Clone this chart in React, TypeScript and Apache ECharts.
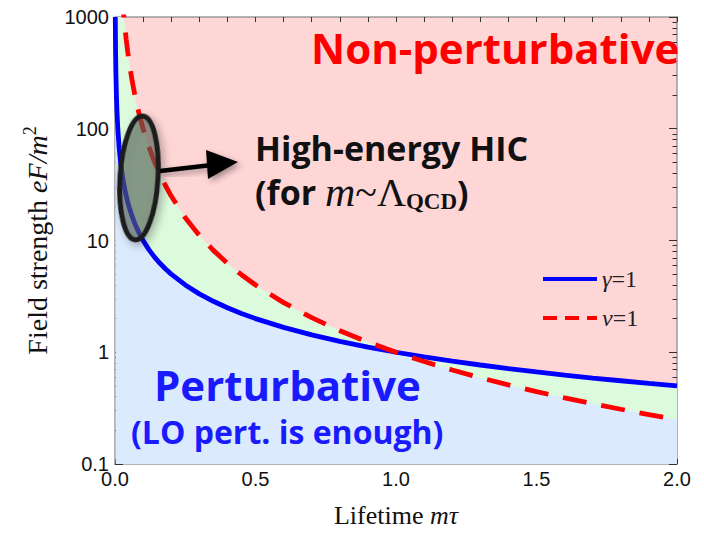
import React, { useEffect, useRef } from "react";
import * as echarts from "echarts";

// lifetime m*tau
const tau = [0.001, 0.002, 0.003, 0.005, 0.007, 0.01, 0.015, 0.02, 0.025, 0.03, 0.035, 0.04, 0.045, 0.05, 0.06, 0.07, 0.08, 0.09, 0.1, 0.12, 0.14, 0.16, 0.18, 0.2, 0.25, 0.3, 0.35, 0.4, 0.45, 0.5, 0.6, 0.7, 0.8, 0.9, 1.0, 1.1, 1.2, 1.3, 1.4, 1.5, 1.6, 1.7, 1.8, 1.9, 2.0];
// gamma = 1 curve (eF/m^2)
const gamma1 = [1000, 500, 333, 200, 143, 100, 66.7, 50, 40, 33.3, 28.6, 25, 22.2, 20, 16.7, 14.3, 12.5, 11.1, 10, 8.33, 7.14, 6.25, 5.56, 5, 4, 3.33, 2.86, 2.5, 2.22, 2, 1.67, 1.43, 1.25, 1.11, 1, 0.909, 0.833, 0.769, 0.714, 0.667, 0.625, 0.588, 0.556, 0.526, 0.5];
// nu = 1 curve (eF/m^2)
const nu1 = [1e6, 250000, 111111, 40000, 20408, 10000, 4444, 2500, 1600, 1111, 816, 625, 494, 400, 278, 204, 156, 123, 100, 69.4, 51, 39.1, 30.9, 25, 16, 11.1, 8.16, 6.25, 4.94, 4, 2.78, 2.04, 1.56, 1.23, 1, 0.826, 0.694, 0.592, 0.51, 0.444, 0.391, 0.346, 0.309, 0.277, 0.25];
// axes
const xTickLabels = [0, 0.5, 1.0, 1.5, 2.0];
const yMinorTicks = [0.2, 0.3, 0.4, 0.5, 0.6, 0.7, 0.8, 0.9, 2, 3, 4, 5, 6, 7, 8, 9, 20, 30, 40, 50, 60, 70, 80, 90, 200, 300, 400, 500, 600, 700, 800, 900];
const yMajorTicks = [0.1, 1, 10, 100, 1000];

const SERIF = "'Liberation Serif', 'DejaVu Serif', serif";
const SANS = "'Liberation Sans', Arial, sans-serif";
const BOLD = "'Open Sans', 'Noto Sans', sans-serif";

export default function App() {
  const ref = useRef<HTMLDivElement>(null);
  useEffect(() => {
    if (!ref.current) return;
    const chart = echarts.init(ref.current, null, { renderer: "svg" });
    const blueData = tau.map((t, i) => [t, gamma1[i]]);
    const redData = tau.map((t, i) => [t, nu1[i]]);
    const upper = tau.map((t, i) => [t, Math.max(gamma1[i], nu1[i])]);
    const lower = tau.map((t, i) => [t, Math.min(gamma1[i], nu1[i])]);

    const axisLine = { show: true, lineStyle: { color: "#9a9a9a", width: 1.5 } };
    const tickLine = { color: "#333", width: 1 };
    const xBase = {
      type: "value",
      min: 0,
      max: 2,
      interval: 0.5,
      axisLine,
      splitLine: { show: false },
      axisTick: { show: true, inside: true, length: 5, lineStyle: tickLine },
      minorTick: { show: true, splitNumber: 5, length: 5, lineStyle: tickLine },
    };
    const yBase = {
      type: "log",
      logBase: 10,
      min: 0.1,
      max: 1000,
      axisLine,
      splitLine: { show: false },
    };
    const legendRich = {
      g: { font: `italic 24px ${SERIF}`, fill: "#222" },
      r: { font: `24px ${SERIF}`, fill: "#222" },
    };

    chart.setOption({
      animation: false,
      backgroundColor: "#ffffff",
      grid: {
        left: 115,
        right: 27,
        top: 17,
        bottom: 67,
        show: true,
        backgroundColor: "#ffd6d6",
        borderWidth: 0,
      },
      xAxis: [
        {
          ...xBase,
          position: "bottom",
          axisLabel: {
            show: true,
            customValues: xTickLabels,
            formatter: (v: number) => v.toFixed(1),
            fontSize: 20,
            fontFamily: SANS,
            color: "#111",
            margin: 5,
          },
          name: "{a|Lifetime }{b|mτ}",
          nameLocation: "middle",
          nameGap: 38,
          nameTextStyle: {
            rich: {
              a: { fontFamily: SERIF, fontSize: 26, color: "#111" },
              b: { fontFamily: SERIF, fontSize: 26, fontStyle: "italic", color: "#111" },
            },
          },
        },
        { ...xBase, position: "top", axisLabel: { show: false } },
      ],
      yAxis: [
        {
          ...yBase,
          position: "left",
          axisTick: { show: true, inside: true, length: 8, lineStyle: tickLine, customValues: yMajorTicks },
          axisLabel: {
            show: true,
            customValues: yMajorTicks,
            formatter: (v: number) => (v < 1 ? v.toFixed(1) : String(Math.round(v))),
            fontSize: 20,
            fontFamily: SANS,
            color: "#111",
            margin: 6,
          },
          name: "{a|Field strength }{b|eF/m}{s|2}",
          nameLocation: "middle",
          nameGap: 62,
          nameRotate: 90,
          nameTextStyle: {
            rich: {
              a: { fontFamily: SERIF, fontSize: 28, color: "#111", lineHeight: 32 },
              b: { fontFamily: SERIF, fontSize: 28, fontStyle: "italic", color: "#111", lineHeight: 32 },
              s: { fontFamily: SERIF, fontSize: 18, color: "#111", verticalAlign: "top", lineHeight: 19 },
            },
          },
        },
        {
          ...yBase,
          position: "left",
          axisLine: { show: false },
          axisTick: { show: true, inside: true, length: 4.5, lineStyle: tickLine, customValues: yMinorTicks },
          axisLabel: { show: false },
        },
        {
          ...yBase,
          position: "right",
          axisTick: { show: true, inside: true, length: 8, lineStyle: tickLine, customValues: yMajorTicks },
          axisLabel: { show: false },
        },
        {
          ...yBase,
          position: "right",
          axisLine: { show: false },
          axisTick: { show: true, inside: true, length: 4.5, lineStyle: tickLine, customValues: yMinorTicks },
          axisLabel: { show: false },
        },
      ],
      series: [
        {
          type: "line",
          data: upper,
          symbol: "none",
          lineStyle: { width: 0 },
          areaStyle: { color: "#dcfadc", opacity: 1, origin: "start" },
          z: 1,
          silent: true,
        },
        {
          type: "line",
          data: lower,
          symbol: "none",
          lineStyle: { width: 0 },
          areaStyle: { color: "#dbeafd", opacity: 1, origin: "start" },
          z: 1,
          silent: true,
        },
        {
          name: "γ=1",
          type: "line",
          data: blueData,
          symbol: "none",
          lineStyle: { color: "#0000ff", width: 4.8 },
          z: 3,
        },
        {
          name: "ν=1",
          type: "line",
          data: redData,
          symbol: "none",
          lineStyle: { color: "#ff0000", width: 4.8, type: [24, 15] },
          z: 4,
        },
      ],
      graphic: [
        // legend
        { type: "line", z: 50, shape: { x1: 543, y1: 279, x2: 597, y2: 279 }, style: { stroke: "#0000ff", lineWidth: 4 } },
        { type: "text", z: 50, style: { x: 602, y: 279, text: "{g|γ}{r|=1}", rich: legendRich, verticalAlign: "middle" } },
        { type: "line", z: 50, shape: { x1: 543, y1: 318, x2: 597, y2: 318 }, style: { stroke: "#ff0000", lineWidth: 4, lineDash: [14, 8] } },
        { type: "text", z: 50, style: { x: 602, y: 318, text: "{g|ν}{r|=1}", rich: legendRich, verticalAlign: "middle" } },
        // ellipse + arrow
        {
          type: "ellipse",
          z: 60,
          x: 139,
          y: 178,
          rotation: -0.06,
          shape: { cx: 0, cy: 0, rx: 19, ry: 62 },
          style: {
            fill: "rgba(90,100,90,0.55)",
            stroke: "#1a1a1a",
            lineWidth: 5,
            shadowBlur: 8,
            shadowColor: "rgba(0,0,0,0.35)",
            shadowOffsetX: 3,
            shadowOffsetY: 3,
          },
        },
        {
          type: "line",
          z: 60,
          shape: { x1: 160, y1: 171, x2: 212, y2: 165 },
          style: { stroke: "#000", lineWidth: 4.5, shadowBlur: 6, shadowColor: "rgba(0,0,0,0.35)", shadowOffsetX: 3, shadowOffsetY: 3 },
        },
        {
          type: "polygon",
          z: 60,
          shape: { points: [[206, 150], [238, 162], [208, 179]] },
          style: { fill: "#000", shadowBlur: 6, shadowColor: "rgba(0,0,0,0.35)", shadowOffsetX: 3, shadowOffsetY: 3 },
        },
        // region labels
        { type: "text", z: 70, style: { x: 311, y: 47, text: "Non-perturbative", font: `bold 42px ${BOLD}`, fill: "#ff0000", verticalAlign: "middle" } },
        { type: "text", z: 70, style: { x: 255, y: 148, text: "High-energy HIC", font: `bold 34px ${BOLD}`, fill: "#111", verticalAlign: "middle" } },
        {
          type: "text",
          z: 70,
          style: {
            x: 255,
            y: 192,
            text: "{a|(for }{m|m}{t|~Λ}{q|QCD}{a|)}",
            verticalAlign: "middle",
            rich: {
              a: { font: `bold 34px ${BOLD}`, fill: "#111", lineHeight: 42 },
              m: { font: `italic 42px ${SERIF}`, fill: "#111", lineHeight: 42 },
              t: { font: `40px ${SERIF}`, fill: "#111", lineHeight: 42 },
              q: { font: `bold 23px ${SERIF}`, fill: "#111", lineHeight: 17, verticalAlign: "bottom" },
            },
          },
        },
        { type: "text", z: 70, style: { x: 154, y: 384, text: "Perturbative", font: `bold 42px ${BOLD}`, fill: "#1a1aff", verticalAlign: "middle" } },
        { type: "text", z: 70, style: { x: 131, y: 431, text: "(LO pert. is enough)", font: `bold 32px ${BOLD}`, fill: "#1a1aff", verticalAlign: "middle" } },
      ],
    });
    return () => chart.dispose();
  }, []);
  return <div ref={ref} style={{ position: "fixed", left: 0, top: 0, width: 704, height: 533 }} />;
}
